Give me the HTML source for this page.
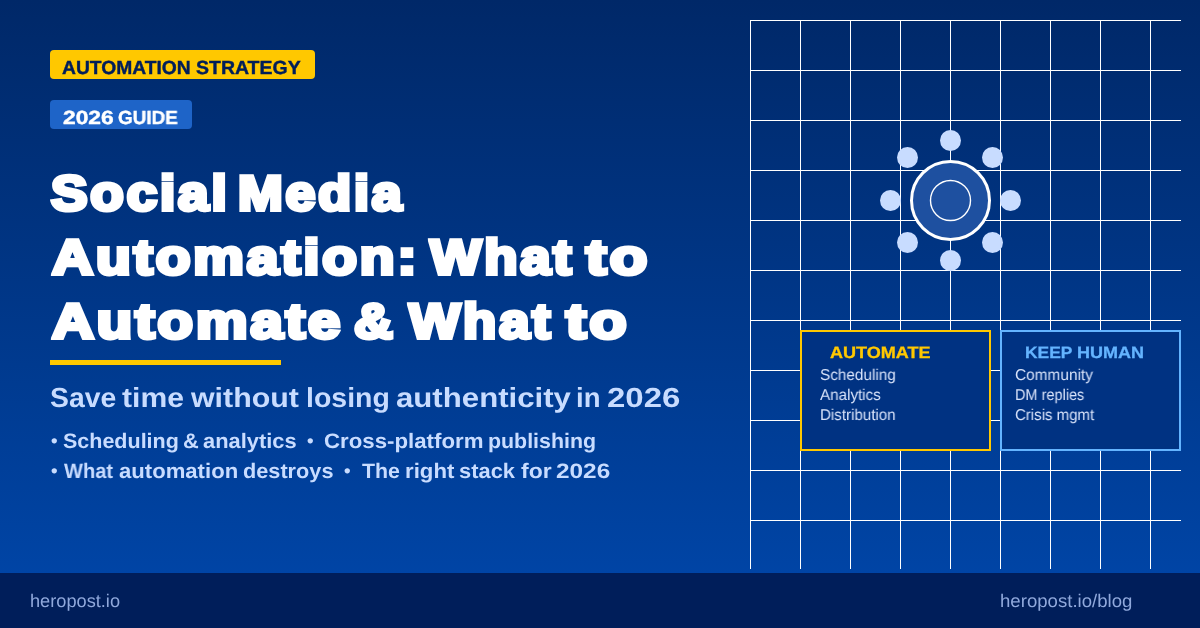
<!DOCTYPE html>
<html lang="en">
<head>
<meta charset="utf-8">
<title>Social Media Automation: What to Automate &amp; What to Keep Human</title>
<style>
html,body{margin:0;padding:0;}
body{width:1200px;height:628px;overflow:hidden;position:relative;
  background:linear-gradient(180deg,#002868 0px,#0047AB 628px);
  font-family:"Liberation Sans",sans-serif;}
.t{position:absolute;white-space:pre;line-height:1;margin:0;transform-origin:0 0;will-change:transform;text-rendering:geometricPrecision;}
#grid{position:absolute;left:0;top:0;width:1200px;height:628px;}
#footer{position:absolute;left:0;top:573px;width:1200px;height:55px;background:#001E5A;}
.badge{position:absolute;left:50px;height:29px;border-radius:4px;}
#b1{top:50px;width:265px;background:#FFC800;}
#b2{top:100px;width:142px;background:#1E64C8;}
#bar{position:absolute;left:50px;top:360px;width:231px;height:5px;background:#FFC800;}
.card{position:absolute;top:330px;height:117px;border:2px solid;background:#003282;}
#c1{left:800px;width:187px;border-color:#FFC800;}
#c2{left:1000px;width:177px;border-color:#64B4FF;}
.bt{font-weight:700;font-size:19.0px;-webkit-text-stroke:0.4px;}
.h1{font-weight:700;font-size:49.2px;-webkit-text-stroke:4px #fff;color:#fff;letter-spacing:2.6px;}
.sub{font-weight:700;font-size:27.5px;color:#C8DCFF;}
.bul{font-weight:700;font-size:20.9px;color:#C8DCFF;}
.dot{font-weight:700;font-size:18.7px;color:#C8DCFF;}
.ch{font-weight:700;font-size:16.4px;-webkit-text-stroke:0.3px;}
.ci{font-weight:400;font-size:15.7px;color:#D8E3FA;}
.ft{font-weight:400;font-size:18.2px;color:#90A9DC;}
</style>
</head>
<body>
<svg id="grid" width="1200" height="628" viewBox="0 0 1200 628" shape-rendering="crispEdges">
  <g fill="#ffffff">
    <rect x="750" y="20" width="431" height="1"/>
    <rect x="750" y="70" width="431" height="1"/>
    <rect x="750" y="120" width="431" height="1"/>
    <rect x="750" y="170" width="431" height="1"/>
    <rect x="750" y="220" width="431" height="1"/>
    <rect x="750" y="270" width="431" height="1"/>
    <rect x="750" y="320" width="431" height="1"/>
    <rect x="750" y="370" width="431" height="1"/>
    <rect x="750" y="420" width="431" height="1"/>
    <rect x="750" y="470" width="431" height="1"/>
    <rect x="750" y="520" width="431" height="1"/>
    <rect x="750" y="20" width="1" height="549"/>
    <rect x="800" y="20" width="1" height="549"/>
    <rect x="850" y="20" width="1" height="549"/>
    <rect x="900" y="20" width="1" height="549"/>
    <rect x="950" y="20" width="1" height="549"/>
    <rect x="1000" y="20" width="1" height="549"/>
    <rect x="1050" y="20" width="1" height="549"/>
    <rect x="1100" y="20" width="1" height="549"/>
    <rect x="1150" y="20" width="1" height="549"/>
  </g>
  <g shape-rendering="auto">
    <g fill="#C8DCFF">
      <circle cx="950.5" cy="140.5" r="10.5"/>
      <circle cx="992.5" cy="157.5" r="10.5"/>
      <circle cx="1010.5" cy="200.5" r="10.5"/>
      <circle cx="992.5" cy="242.5" r="10.5"/>
      <circle cx="950.5" cy="260.5" r="10.5"/>
      <circle cx="907.5" cy="242.5" r="10.5"/>
      <circle cx="890.5" cy="200.5" r="10.5"/>
      <circle cx="907.5" cy="157.5" r="10.5"/>
    </g>
    <circle cx="950.5" cy="200.5" r="39" fill="#1E50A0" stroke="#ffffff" stroke-width="3"/>
    <circle cx="950.5" cy="200.5" r="20" fill="#1E50A0" stroke="#ffffff" stroke-width="1.4"/>
  </g>
</svg>
<div id="b1" class="badge"></div>
<div id="b2" class="badge"></div>
<div id="bar"></div>
<div id="c1" class="card"></div>
<div id="c2" class="card"></div>
<div id="footer"></div>
<div class="t bt" style="left:61.88px;top:59.15px;transform:scaleX(1.0134);color:#001E5A;">AUTOMATION</div>
<div class="t bt" style="left:196.22px;top:59.15px;transform:scaleX(1.0253);color:#001E5A;">STRATEGY</div>
<div class="t bt" style="left:62.64px;top:108.55px;transform:scaleX(1.1999);color:#fff;">2026</div>
<div class="t bt" style="left:117.98px;top:108.55px;transform:scaleX(0.9943);color:#fff;">GUIDE</div>
<div class="t h1" style="left:50.82px;top:169.39px;transform:scaleX(1.1120);">Social</div>
<div class="t h1" style="left:238.27px;top:169.39px;transform:scaleX(1.0916);">Media</div>
<div class="t h1" style="left:51.79px;top:233.19px;transform:scaleX(1.1549);">Automation:</div>
<div class="t h1" style="left:429.78px;top:233.19px;transform:scaleX(1.1050);">What</div>
<div class="t h1" style="left:586.28px;top:233.19px;transform:scaleX(1.2473);">to</div>
<div class="t h1" style="left:51.71px;top:297.19px;transform:scaleX(1.1765);">Automate</div>
<div class="t h1" style="left:353.61px;top:297.19px;transform:scaleX(1.0959);">&amp;</div>
<div class="t h1" style="left:409.32px;top:297.19px;transform:scaleX(1.1039);">What</div>
<div class="t h1" style="left:565.86px;top:297.19px;transform:scaleX(1.2328);">to</div>
<div class="t sub" style="left:50.15px;top:384.23px;transform:scaleX(1.0302);">Save</div>
<div class="t sub" style="left:122.47px;top:384.23px;transform:scaleX(1.0949);">time</div>
<div class="t sub" style="left:190.91px;top:384.23px;transform:scaleX(1.1044);">without</div>
<div class="t sub" style="left:305.82px;top:384.23px;transform:scaleX(1.0353);">losing</div>
<div class="t sub" style="left:396.03px;top:384.23px;transform:scaleX(1.1334);">authenticity</div>
<div class="t sub" style="left:575.70px;top:384.23px;transform:scaleX(0.9951);">in</div>
<div class="t sub" style="left:606.98px;top:384.23px;transform:scaleX(1.1991);">2026</div>
<div class="t dot" style="left:51.00px;top:431.96px;">•</div>
<div class="t bul" style="left:62.78px;top:432.04px;transform:scaleX(1.0289);">Scheduling</div>
<div class="t bul" style="left:183.49px;top:432.04px;transform:scaleX(1.0446);">&amp;</div>
<div class="t bul" style="left:203.11px;top:432.04px;transform:scaleX(1.0473);">analytics</div>
<div class="t dot" style="left:306.75px;top:431.98px;">•</div>
<div class="t bul" style="left:323.87px;top:432.04px;transform:scaleX(1.0650);">Cross-platform</div>
<div class="t bul" style="left:487.59px;top:432.04px;transform:scaleX(1.0230);">publishing</div>
<div class="t dot" style="left:51.00px;top:461.96px;">•</div>
<div class="t bul" style="left:64.23px;top:461.64px;transform:scaleX(0.9620);">What</div>
<div class="t bul" style="left:119.18px;top:461.64px;transform:scaleX(1.0583);">automation</div>
<div class="t bul" style="left:243.24px;top:461.64px;transform:scaleX(1.0388);">destroys</div>
<div class="t dot" style="left:344.30px;top:461.92px;">•</div>
<div class="t bul" style="left:361.58px;top:461.64px;transform:scaleX(1.0228);">The</div>
<div class="t bul" style="left:404.71px;top:461.64px;transform:scaleX(1.0633);">right</div>
<div class="t bul" style="left:459.45px;top:461.64px;transform:scaleX(1.0476);">stack</div>
<div class="t bul" style="left:520.97px;top:461.64px;transform:scaleX(1.0996);">for</div>
<div class="t bul" style="left:556.17px;top:461.64px;transform:scaleX(1.1656);">2026</div>
<div class="t ch" style="left:830.06px;top:344.76px;transform:scaleX(1.1017);color:#FFC800;">AUTOMATE</div>
<div class="t ci" style="left:820.16px;top:367.65px;transform:scaleX(0.9755);">Scheduling</div>
<div class="t ci" style="left:819.82px;top:387.65px;transform:scaleX(0.9678);">Analytics</div>
<div class="t ci" style="left:819.83px;top:407.65px;transform:scaleX(0.9630);">Distribution</div>
<div class="t ch" style="left:1024.80px;top:344.76px;transform:scaleX(1.0605);color:#64B4FF;">KEEP</div>
<div class="t ch" style="left:1076.96px;top:344.76px;transform:scaleX(1.0977);color:#64B4FF;">HUMAN</div>
<div class="t ci" style="left:1015.24px;top:367.65px;transform:scaleX(0.9818);">Community</div>
<div class="t ci" style="left:1014.89px;top:387.85px;transform:scaleX(0.9238);">DM replies</div>
<div class="t ci" style="left:1015.26px;top:407.65px;transform:scaleX(0.9560);">Crisis mgmt</div>
<div class="t ft" style="left:29.75px;top:591.53px;transform:scaleX(1.0005);">heropost.io</div>
<div class="t ft" style="left:999.72px;top:591.53px;transform:scaleX(1.0227);">heropost.io/blog</div>
</body>
</html>
